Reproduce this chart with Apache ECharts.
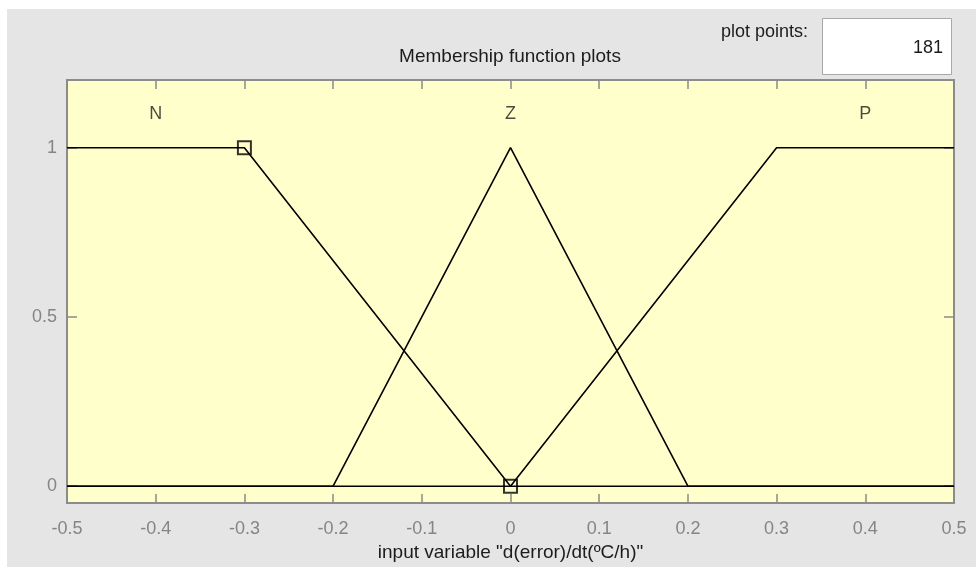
<!DOCTYPE html>
<html>
<head>
<meta charset="utf-8">
<script src="https://cdn.jsdelivr.net/npm/echarts@6/dist/echarts.min.js"></script>
<style>
  html, body { margin: 0; padding: 0; background: #ffffff; }
  #chart { width: 976px; height: 567px; }
</style>
</head>
<body>
<div id="chart"></div>
<script>
// Membership functions of the input variable d(error)/dt, as [x, mu] vertices
const mfNames = ['N', 'Z', 'P'];
const mfN = [[-0.5, 1], [-0.3, 1], [0, 0], [0.5, 0]];
const mfZ = [[-0.5, 0], [-0.2, 0], [0, 1], [0.2, 0], [0.5, 0]];
const mfP = [[-0.5, 0], [0, 0], [0.3, 1], [0.5, 1]];
// Label anchors (centre of each function) and their height
const mfLabelX = [-0.4, 0, 0.4];
const mfLabelY = 1.1;
// Vertices of the currently selected function (N)
const selectedVertices = [[-0.3, 1], [0, 0]];
// Axis ranges and ticks
const xMin = -0.5, xMax = 0.5, xStep = 0.1;
const yMin = -0.05, yMax = 1.2;
const yTicks = [0, 0.5, 1];
const plotPoints = 181;

const FONT = '"Liberation Sans", Arial, sans-serif';
const TICK_COLOR = '#8a8a8a';
const LABEL_COLOR = '#858585';
const TEXT_COLOR = '#1c1c1c';

const chart = echarts.init(document.getElementById('chart'), null, { renderer: 'canvas' });

const lineSeries = (name, data) => ({
  name: name,
  type: 'line',
  data: data,
  symbol: 'none',
  lineStyle: { color: '#000000', width: 1.6 },
  z: 3,
  silent: true,
  animation: false
});

// Frame edges come from the grid border; axes only contribute ticks and labels
const hiddenAxisLine = { show: false, onZero: false };
const innerTick = len => ({ inside: true, length: len, lineStyle: { color: TICK_COLOR, width: 1.5 } });

const option = {
  backgroundColor: '#ffffff',
  animation: false,
  textStyle: { fontFamily: FONT },
  grid: {
    left: 67, right: 22, top: 80, bottom: 63,
    show: true,
    backgroundColor: '#ffffcc',
    borderColor: '#8c8c8c',
    borderWidth: 2
  },
  graphic: [
    { type: 'rect', z: -100, shape: { x: 7, y: 9, width: 969, height: 558 },
      style: { fill: '#e5e5e5' }, silent: true },
    { type: 'text', x: 510, y: 57,
      style: { text: 'Membership function plots', font: '19px ' + FONT, fill: TEXT_COLOR,
        textAlign: 'center', textVerticalAlign: 'middle' } },
    { type: 'text', x: 808, y: 32,
      style: { text: 'plot points:', font: '18px ' + FONT, fill: TEXT_COLOR,
        textAlign: 'right', textVerticalAlign: 'middle' } },
    { type: 'rect', shape: { x: 822.5, y: 18.5, width: 129, height: 56 },
      style: { fill: '#ffffff', stroke: '#a8a8a8', lineWidth: 1 } },
    { type: 'text', x: 943, y: 48,
      style: { text: String(plotPoints), font: '18px ' + FONT, fill: TEXT_COLOR,
        textAlign: 'right', textVerticalAlign: 'middle' } }
  ],
  xAxis: [
    {
      type: 'value', min: xMin, max: xMax, interval: xStep, position: 'bottom',
      axisLine: hiddenAxisLine,
      axisTick: innerTick(9),
      splitLine: { show: false },
      axisLabel: { color: LABEL_COLOR, fontSize: 18, fontFamily: FONT, margin: 17,
        formatter: v => String(Math.round(v * 10) / 10) },
      name: 'input variable "d(error)/dt(ºC/h)"',
      nameLocation: 'middle', nameGap: 38,
      nameTextStyle: { color: TEXT_COLOR, fontSize: 19, fontFamily: FONT }
    },
    {
      type: 'value', min: xMin, max: xMax, interval: xStep, position: 'top',
      axisLine: hiddenAxisLine,
      axisTick: innerTick(9),
      splitLine: { show: false },
      axisLabel: { show: false }
    }
  ],
  yAxis: [
    {
      type: 'value', min: yMin, max: yMax, position: 'left',
      axisLine: hiddenAxisLine,
      axisTick: Object.assign(innerTick(10), { customValues: yTicks }),
      splitLine: { show: false },
      axisLabel: { color: LABEL_COLOR, fontSize: 18, fontFamily: FONT, margin: 10,
        customValues: yTicks, formatter: v => String(v) }
    },
    {
      type: 'value', min: yMin, max: yMax, position: 'right',
      axisLine: hiddenAxisLine,
      axisTick: Object.assign(innerTick(10), { customValues: yTicks }),
      splitLine: { show: false },
      axisLabel: { show: false }
    }
  ],
  series: [
    lineSeries(mfNames[0], mfN),
    lineSeries(mfNames[1], mfZ),
    lineSeries(mfNames[2], mfP),
    {
      name: 'selected',
      type: 'scatter',
      data: selectedVertices,
      symbol: 'rect',
      symbolSize: 13,
      itemStyle: { color: 'rgba(0,0,0,0)', borderColor: '#000000', borderWidth: 2 },
      z: 5, silent: true
    },
    {
      name: 'labels',
      type: 'scatter',
      data: mfLabelX.map((x, i) => ({ value: [x, mfLabelY], name: mfNames[i] })),
      symbolSize: 0,
      label: { show: true, position: 'inside', formatter: p => p.name,
        color: TEXT_COLOR, fontSize: 18, fontFamily: FONT },
      z: 4, silent: true
    }
  ]
};

chart.setOption(option);
</script>
</body>
</html>
